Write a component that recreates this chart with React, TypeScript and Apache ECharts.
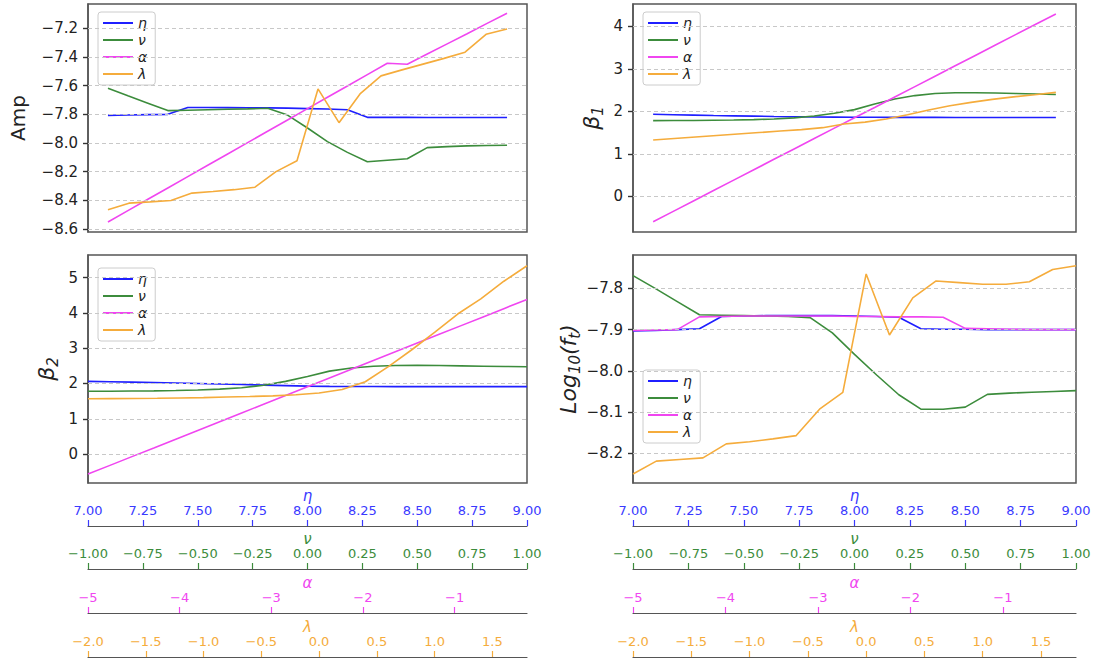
import React, { useEffect, useRef } from "react";
import * as echarts from "echarts";

// ---------- data ----------
const seriesNames = ["η", "ν", "α", "λ"];
const seriesColors = ["#1f1fff", "#3c8c3c", "#f046f0", "#f5ac3c"];
const tickColors = ["#3a3aff", "#3c8c3c", "#f046f0", "#f5ac3c"];

// Panel 1: Amp
const ampEta = [-7.807, -7.805, -7.802, -7.8, -7.752, -7.752, -7.753, -7.754, -7.755, -7.757, -7.76, -7.763, -7.768, -7.821, -7.821, -7.821, -7.822, -7.822, -7.822, -7.822, -7.822];
const ampNu = [-7.619, -7.671, -7.722, -7.774, -7.771, -7.768, -7.765, -7.762, -7.758, -7.805, -7.895, -7.99, -8.065, -8.13, -8.12, -8.11, -8.032, -8.025, -8.02, -8.017, -8.015];
const ampAlpha = [-8.55, -8.471, -8.392, -8.313, -8.234, -8.155, -8.076, -7.997, -7.918, -7.839, -7.76, -7.681, -7.602, -7.523, -7.444, -7.451, -7.38, -7.309, -7.238, -7.166, -7.095];
const ampLambda = [-8.465, -8.419, -8.41, -8.4, -8.349, -8.338, -8.325, -8.308, -8.199, -8.124, -7.623, -7.858, -7.658, -7.532, -7.49, -7.45, -7.41, -7.367, -7.242, -7.205];

// Panel 2: beta_1
const b1Eta = [1.93, 1.92, 1.91, 1.9, 1.893, 1.886, 1.879, 1.873, 1.868, 1.864, 1.861, 1.859, 1.858, 1.857, 1.857, 1.856, 1.856, 1.856, 1.855, 1.855, 1.855];
const b1Nu = [1.78, 1.782, 1.785, 1.79, 1.795, 1.805, 1.82, 1.845, 1.89, 1.955, 2.04, 2.17, 2.29, 2.37, 2.42, 2.437, 2.437, 2.43, 2.42, 2.408, 2.395];
const b1Alpha = [-0.6, -0.355, -0.11, 0.135, 0.38, 0.625, 0.87, 1.115, 1.36, 1.605, 1.85, 2.09, 2.335, 2.58, 2.825, 3.07, 3.315, 3.56, 3.805, 4.05, 4.29];
const b1Lambda = [1.325, 1.36, 1.395, 1.43, 1.465, 1.5, 1.535, 1.57, 1.615, 1.7, 1.745, 1.82, 1.92, 2.03, 2.13, 2.21, 2.28, 2.34, 2.39, 2.445];

// Panel 3: beta_2
const b2Eta = [2.06, 2.05, 2.04, 2.03, 2.015, 2.0, 1.985, 1.97, 1.955, 1.94, 1.925, 1.918, 1.915, 1.913, 1.912, 1.911, 1.91, 1.91, 1.91, 1.91, 1.91];
const b2Nu = [1.78, 1.782, 1.786, 1.79, 1.8, 1.815, 1.84, 1.88, 1.95, 2.06, 2.2, 2.35, 2.44, 2.49, 2.51, 2.515, 2.51, 2.5, 2.49, 2.482, 2.475];
const b2Alpha = [-0.57, -0.322, -0.074, 0.173, 0.421, 0.669, 0.917, 1.164, 1.412, 1.66, 1.907, 2.155, 2.403, 2.651, 2.898, 3.146, 3.394, 3.641, 3.889, 4.137, 4.385];
const b2Lambda = [1.566, 1.57, 1.575, 1.58, 1.59, 1.6, 1.615, 1.63, 1.65, 1.68, 1.73, 1.83, 2.05, 2.48, 2.95, 3.45, 3.97, 4.4, 4.9, 5.34];

// Panel 4: Log10(f_t)
const logEta = [-7.903, -7.902, -7.9, -7.898, -7.868, -7.867, -7.866, -7.866, -7.866, -7.866, -7.867, -7.868, -7.87, -7.898, -7.899, -7.899, -7.9, -7.9, -7.9, -7.9, -7.9];
const logNu = [-7.769, -7.8, -7.832, -7.864, -7.865, -7.866, -7.867, -7.868, -7.871, -7.908, -7.96, -8.01, -8.058, -8.093, -8.093, -8.088, -8.057, -8.054, -8.052, -8.05, -8.048];
const logAlpha = [-7.902, -7.901, -7.9, -7.869, -7.868, -7.867, -7.867, -7.867, -7.867, -7.867, -7.868, -7.868, -7.869, -7.869, -7.87, -7.897, -7.898, -7.899, -7.9, -7.9, -7.9];
const logLambda = [-8.25, -8.219, -8.215, -8.211, -8.177, -8.172, -8.165, -8.157, -8.093, -8.052, -7.765, -7.913, -7.823, -7.782, -7.786, -7.79, -7.79, -7.784, -7.754, -7.745];

// y tick labels
const ampTicks = [-8.6, -8.4, -8.2, -8.0, -7.8, -7.6, -7.4, -7.2];
const b1Ticks = [0, 1, 2, 3, 4];
const b2Ticks = [0, 1, 2, 3, 4, 5];
const logTicks = [-8.2, -8.1, -8.0, -7.9, -7.8];

// parameter axes ticks
const etaTicks = [7.0, 7.25, 7.5, 7.75, 8.0, 8.25, 8.5, 8.75, 9.0];
const nuTicks = [-1.0, -0.75, -0.5, -0.25, 0.0, 0.25, 0.5, 0.75, 1.0];
const alphaTicks = [-5, -4, -3, -2, -1];
const lambdaTicks = [-2.0, -1.5, -1.0, -0.5, 0.0, 0.5, 1.0, 1.5];
const paramRanges = [
  [7, 9],
  [-1, 1],
  [-5, -0.21],
  [-2, 1.8],
];
const paramTicks = [etaTicks, nuTicks, alphaTicks, lambdaTicks];
const paramDecimals = [2, 2, 0, 1];

const FONT = "DejaVu Sans";
const minus = (s: string) => s.replace("-", "\u2212");

const nameRich = {
  n: { fontSize: 22, fontStyle: "italic", color: "#222", fontFamily: FONT, lineHeight: 28 },
  s: { fontSize: 15, fontStyle: "italic", color: "#222", fontFamily: FONT, lineHeight: 14, verticalAlign: "bottom" },
  r: { fontSize: 20, fontStyle: "normal", color: "#222", fontFamily: FONT, lineHeight: 26 },
};

export default function App() {
  const ref = useRef<HTMLDivElement>(null);
  useEffect(() => {
    if (!ref.current) return;
    const chart = echarts.init(ref.current, undefined, { renderer: "svg" });

    const colL = { left: 88, width: 439 };
    const colR = { left: 633, width: 443 };
    const panels = [
      { ...colL, top: 4, height: 228, yMin: -8.62, yMax: -7.031, ticks: ampTicks, dec: 1, name: "{r|Amp}", nameGap: 57, xMin: -0.05, xMax: 1.05, legendTop: 12, data: [ampEta, ampNu, ampAlpha, ampLambda] },
      { ...colR, top: 4, height: 228, yMin: -0.84, yMax: 4.525, ticks: b1Ticks, dec: 0, name: "{n|β}{s|1}", nameGap: 28, xMin: -0.05, xMax: 1.05, legendTop: 12, data: [b1Eta, b1Nu, b1Alpha, b1Lambda] },
      { ...colL, top: 255, height: 228, yMin: -0.822, yMax: 5.644, ticks: b2Ticks, dec: 0, name: "{n|β}{s|2}", nameGap: 28, xMin: 0, xMax: 1, legendTop: 268, data: [b2Eta, b2Nu, b2Alpha, b2Lambda] },
      { ...colR, top: 255, height: 228, yMin: -8.272, yMax: -7.719, ticks: logTicks, dec: 1, name: "{n|Log}{s|10}{n|(f}{s|t}{n|)}", nameGap: 47, xMin: 0, xMax: 1, legendTop: 370, data: [logEta, logNu, logAlpha, logLambda] },
    ];

    const grid: any[] = [];
    const xAxis: any[] = [];
    const yAxis: any[] = [];
    const series: any[] = [];
    const legend: any[] = [];

    panels.forEach((p, pi) => {
      grid.push({ left: p.left, top: p.top, width: p.width, height: p.height, show: true, borderColor: "#555", borderWidth: 1.5, backgroundColor: "transparent" });
      xAxis.push({ gridIndex: pi, type: "value", min: p.xMin, max: p.xMax, show: false });
      yAxis.push({
        gridIndex: pi,
        type: "value",
        min: p.yMin,
        max: p.yMax,
        axisLine: { show: true, onZero: false, lineStyle: { color: "#555", width: 1.5 } },
        axisTick: { show: true, inside: false, length: 5, customValues: p.ticks, lineStyle: { color: "#333", width: 1.4 } },
        axisLabel: { customValues: p.ticks, formatter: (v: number) => minus(v.toFixed(p.dec)), color: "#222", fontSize: 15, margin: 10, fontFamily: FONT },
        splitLine: { show: false },
        name: p.name,
        nameLocation: "middle",
        nameGap: p.nameGap,
        nameTextStyle: { rich: nameRich },
      });
      series.push({
        type: "line",
        name: "_grid" + pi,
        xAxisIndex: pi,
        yAxisIndex: pi,
        data: [],
        silent: true,
        z: 1,
        markLine: {
          silent: true,
          symbol: ["none", "none"],
          label: { show: false },
          lineStyle: { type: [4, 3], color: "#c8c8c8", width: 1 },
          data: p.ticks.map((t) => [{ coord: [p.xMin, t] }, { coord: [p.xMax, t] }]),
        },
      });
      p.data.forEach((arr, k) => {
        series.push({
          type: "line",
          name: seriesNames[k],
          xAxisIndex: pi,
          yAxisIndex: pi,
          data: arr.map((v, i) => [i / (arr.length - 1), v]),
          symbol: "none",
          showSymbol: false,
          silent: true,
          z: 2 + k,
          lineStyle: { color: seriesColors[k], width: 1.6 },
          itemStyle: { color: seriesColors[k] },
        });
      });
      legend.push({
        data: seriesNames,
        orient: "vertical",
        left: p.left + 10,
        top: p.legendTop,
        icon: "rect",
        itemWidth: 30,
        itemHeight: 2,
        itemGap: 3,
        padding: [4, 8, 4, 5],
        backgroundColor: "rgba(255,255,255,0.85)",
        borderColor: "#cccccc",
        borderWidth: 1,
        borderRadius: 3,
        selectedMode: false,
        textStyle: { fontSize: 14, fontStyle: "italic", color: "#222", fontFamily: FONT },
      });
    });

    // parameter axes below each column
    const axisLineY = [526, 569, 613, 657];
    [colL, colR].forEach((col) => {
      axisLineY.forEach((y, k) => {
        const gi = grid.length;
        grid.push({ left: col.left, width: col.width, top: y, height: 1, show: false });
        yAxis.push({ gridIndex: gi, type: "value", show: false });
        xAxis.push({
          gridIndex: gi,
          type: "value",
          position: "top",
          min: paramRanges[k][0],
          max: paramRanges[k][1],
          axisLine: { show: true, onZero: false, lineStyle: { color: "#555", width: 1.2 } },
          axisTick: { show: true, length: 6, customValues: paramTicks[k], lineStyle: { color: tickColors[k], width: 1.2 } },
          axisLabel: {
            customValues: paramTicks[k],
            formatter: (v: number) => minus(v.toFixed(paramDecimals[k])),
            color: tickColors[k],
            fontSize: 13,
            margin: 9,
            fontFamily: FONT,
          },
          splitLine: { show: false },
          name: seriesNames[k],
          nameLocation: "middle",
          nameGap: 21,
          nameTextStyle: { color: tickColors[k], fontSize: 15, fontStyle: "italic", fontFamily: FONT },
        });
      });
    });

    chart.setOption({
      animation: false,
      textStyle: { fontFamily: FONT },
      grid,
      xAxis,
      yAxis,
      series,
      legend,
    });
    return () => chart.dispose();
  }, []);

  return (
    <div
      ref={ref}
      style={{ position: "fixed", left: 0, top: 0, width: 1094, height: 664, background: "#fff" }}
    />
  );
}
